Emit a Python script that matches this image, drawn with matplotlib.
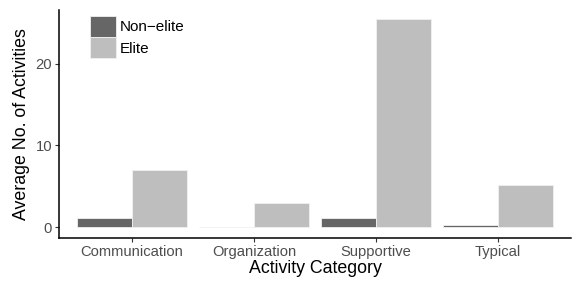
import matplotlib
matplotlib.use('Agg')
import matplotlib.pyplot as plt
import numpy as np

categories = ['Communication', 'Organization', 'Supportive', 'Typical']
non_elite = [1.1, 0.05, 1.1, 0.25]
elite = [7.0, 2.9, 25.5, 5.15]

plt.rcParams['font.family'] = ['Liberation Sans', 'DejaVu Sans']

fig = plt.figure(figsize=(5.81, 2.91), dpi=100)
ax = fig.add_axes([0.1015, 0.182, 0.8815, 0.784])

x = np.arange(1, len(categories) + 1)
w = 0.45
ax.bar(x - w / 2, non_elite, width=w, color='#666666', edgecolor='#f0f0f0',
       linewidth=0.6, label='Non\u2212elite')
ax.bar(x + w / 2, elite, width=w, color='#bebebe', edgecolor='#f0f0f0',
       linewidth=0.6, label='Elite')

ax.set_xlim(0.4, 4.6)
ax.set_ylim(-1.35, 26.6)
ax.set_xticks(x)
ax.set_xticklabels(categories)
ax.set_yticks([0, 10, 20])

for s in ['top', 'right']:
    ax.spines[s].set_visible(False)
for s in ['left', 'bottom']:
    ax.spines[s].set_linewidth(1.1)
ax.tick_params(axis='both', length=3, width=0.8, colors='#333333',
               labelsize=10.6, labelcolor='#4d4d4d', pad=2)

ax.set_xlabel('Activity Category', fontsize=12.8, labelpad=1)
ax.set_ylabel('Average No. of Activities', fontsize=12.8, labelpad=4)

ax.legend(loc='upper left', bbox_to_anchor=(0.048, 1.0), frameon=False,
          fontsize=11, handlelength=1.7, handleheight=1.7,
          labelspacing=0.05, handletextpad=0.3, borderaxespad=0)

fig.savefig('out.png', dpi=100)
